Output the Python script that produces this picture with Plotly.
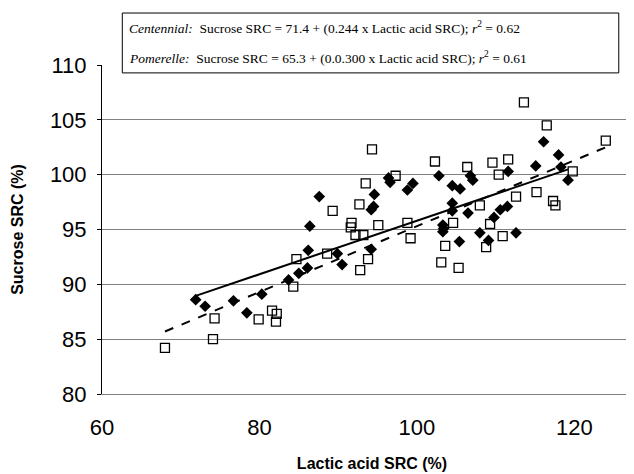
import plotly.graph_objects as go

# Centennial (filled diamonds)
cent_x = [71.9, 73.1, 76.7, 78.4, 80.3, 83.7, 85.0, 86.1, 86.2, 86.4, 87.6, 89.9, 90.5,
          94.2, 94.2, 94.5, 94.6, 96.4, 96.6, 98.8, 99.5, 102.8, 103.3, 103.4, 103.3,
          104.5, 105.5, 104.5, 104.5, 105.4, 106.5, 106.8, 107.1, 108.0, 109.1, 109.8,
          110.6, 111.5, 111.6, 112.6, 115.1, 116.1, 118.0, 118.3, 119.2]
cent_y = [88.6, 88.0, 88.5, 87.4, 89.1, 90.4, 91.0, 91.5, 93.1, 95.3, 98.0, 92.8, 91.8,
          93.2, 96.8, 97.1, 98.2, 99.7, 99.3, 98.6, 99.2, 99.9, 95.4, 95.1, 94.8,
          99.0, 98.7, 97.4, 96.7, 93.9, 96.5, 99.9, 99.5, 94.7, 94.0, 96.1,
          96.8, 97.1, 100.3, 94.7, 100.8, 103.0, 101.8, 100.7, 99.5]

# Pomerelle (open squares)
pom_x = [68.0, 74.1, 74.3, 79.9, 81.6, 82.2, 82.1, 84.3, 84.7, 88.6, 89.3, 91.6, 91.7,
         92.2, 92.7, 92.8, 93.2, 93.5, 93.8, 94.3, 95.1, 97.3, 98.8, 99.2, 102.3, 103.1,
         103.6, 104.6, 105.3, 106.4, 108.0, 108.8, 109.3, 109.6, 110.4, 110.9, 111.6,
         112.6, 113.6, 115.2, 116.5, 117.3, 117.6, 119.8, 124.0]
pom_y = [84.2, 85.0, 86.9, 86.8, 87.6, 87.3, 86.6, 89.8, 92.3, 92.8, 96.7, 95.2, 95.6,
         94.5, 97.3, 91.3, 94.5, 99.2, 92.3, 102.3, 95.4, 99.9, 95.6, 94.2, 101.2, 92.0,
         93.5, 95.6, 91.5, 100.7, 97.2, 93.4, 95.5, 101.1, 100.0, 94.4, 101.4,
         98.0, 106.6, 98.4, 104.5, 97.6, 97.2, 100.3, 103.1]

# Regression coefficients (intercept, slope)
cent_fit = [71.4, 0.244]
pom_fit = [65.3, 0.300]

x_ticks = [60, 80, 100, 120]
y_ticks = [80, 85, 90, 95, 100, 105, 110]

fig = go.Figure()

fig.add_trace(go.Scatter(x=cent_x, y=cent_y, mode="markers",
                         marker=dict(symbol="diamond", size=9, color="black"),
                         showlegend=False))
fig.add_trace(go.Scatter(x=pom_x, y=pom_y, mode="markers",
                         marker=dict(symbol="square-open", size=9, color="black",
                                     line=dict(width=1.3, color="black")),
                         showlegend=False))

cx = [min(cent_x), max(cent_x)]
fig.add_trace(go.Scatter(x=cx, y=[cent_fit[0] + cent_fit[1] * v for v in cx], mode="lines",
                         line=dict(color="black", width=2), showlegend=False))
px = [min(pom_x), max(pom_x)]
fig.add_trace(go.Scatter(x=px, y=[pom_fit[0] + pom_fit[1] * v for v in px], mode="lines",
                         line=dict(color="black", width=2, dash="dash"), showlegend=False))

fig.update_layout(
    width=634, height=474,
    margin=dict(l=94, r=0, t=57, b=88),
    plot_bgcolor="white", paper_bgcolor="white",
    font=dict(family="Liberation Sans, Arial, sans-serif", color="black"),
    xaxis=dict(range=[60, 128.6], tickvals=x_ticks, showgrid=False, zeroline=False,
               showline=True, linecolor="#808080", linewidth=1, ticks="",
               tickfont=dict(size=22), ticklabelstandoff=14,
               title=dict(text="<b>Lactic acid SRC (%)</b>", font=dict(size=16), standoff=18)),
    yaxis=dict(range=[80, 110], tickvals=y_ticks, showgrid=True, gridcolor="#808080",
               gridwidth=1, zeroline=False, showline=True, linecolor="black", linewidth=1,
               ticks="outside", ticklen=4, tickcolor="black",
               tickfont=dict(size=22), ticklabelstandoff=6,
               title=dict(text="<b>Sucrose SRC (%)</b>", font=dict(size=16), standoff=22)),
)

# Equation box
fig.add_shape(type="rect", xref="paper", yref="paper",
              x0=0.0376, x1=0.957, y0=0.976, y1=1.158,
              line=dict(color="black", width=1), fillcolor="white", layer="above")
fig.add_annotation(xref="paper", yref="paper", x=0.046, y=1.1155, xanchor="left",
                   yanchor="middle", showarrow=False,
                   text="<i>Centennial:</i>  Sucrose SRC = 71.4 + (0.244 x Lactic acid SRC); <i>r</i><sup>2</sup> = 0.62",
                   font=dict(family="Liberation Serif, Times New Roman, serif", size=13.5, color="black"))
fig.add_annotation(xref="paper", yref="paper", x=0.046, y=1.024, xanchor="left",
                   yanchor="middle", showarrow=False,
                   text="<i>Pomerelle:</i>  Sucrose SRC = 65.3 + (0.0.300 x Lactic acid SRC); <i>r</i><sup>2</sup> = 0.61",
                   font=dict(family="Liberation Serif, Times New Roman, serif", size=13.5, color="black"))

fig.write_html("out.html")
